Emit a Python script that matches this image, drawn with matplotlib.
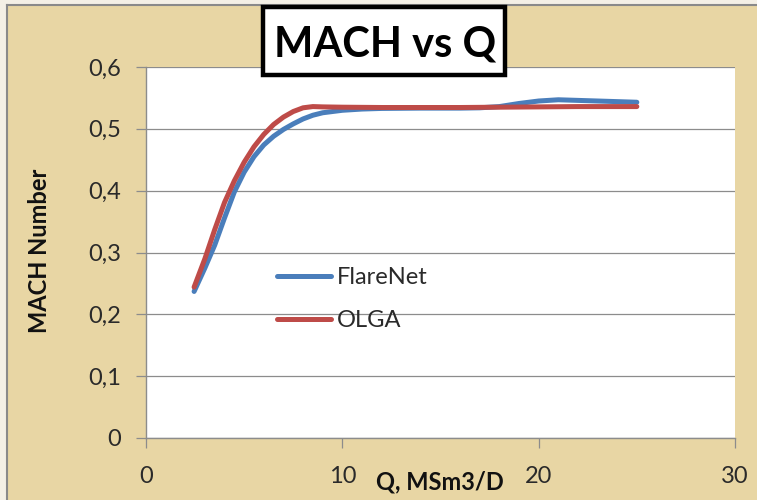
import matplotlib
matplotlib.use("Agg")
import matplotlib.pyplot as plt
from matplotlib.patches import Rectangle
from matplotlib.lines import Line2D
from matplotlib.ticker import FuncFormatter

# ---- data ----
q_flarenet = [2.45, 3.0, 3.5, 4.0, 4.5, 5.0, 5.5, 6.0, 6.5, 7.0, 7.5, 8.0, 8.5, 9.0,
              10.0, 11.0, 12.0, 14.0, 16.0, 17.0, 18.0, 19.0, 20.0, 21.0, 22.0, 23.0, 24.0, 25.0]
mach_flarenet = [0.237, 0.275, 0.312, 0.356, 0.398, 0.430, 0.455, 0.474, 0.488, 0.499, 0.508,
                 0.516, 0.522, 0.526, 0.530, 0.532, 0.533, 0.5335, 0.5335, 0.534, 0.536, 0.541,
                 0.545, 0.547, 0.546, 0.545, 0.544, 0.543]
q_olga = [2.45, 3.0, 3.5, 4.0, 4.5, 5.0, 5.5, 6.0, 6.5, 7.0, 7.5, 8.0, 8.5, 9.0,
          10.0, 12.0, 14.0, 16.0, 18.0, 20.0, 22.0, 24.0, 25.0]
mach_olga = [0.244, 0.290, 0.337, 0.381, 0.416, 0.446, 0.471, 0.491, 0.507, 0.519, 0.528,
             0.534, 0.536, 0.5355, 0.535, 0.5345, 0.5345, 0.5345, 0.535, 0.5355, 0.536, 0.536, 0.536]

series_labels = ["FlareNet", "OLGA"]
x_ticks = [0, 10, 20, 30]
y_ticks = [0, 0.1, 0.2, 0.3, 0.4, 0.5, 0.6]
title = "MACH vs Q"
x_label = "Q, MSm3/D"
y_label = "MACH Number"

# ---- styling ----
W, H = 757, 500
DPI = 100
BG = "#E8D6A4"
FONT = ["Lato", "DejaVu Sans"]
plt.rcParams["font.family"] = FONT

fig = plt.figure(figsize=(W / DPI, H / DPI), dpi=DPI, facecolor=BG)

def fx(px):
    return px / W

def fy(py):
    return 1 - py / H

ax_l, ax_r, ax_t, ax_b = 146, 735, 67, 438
ax = fig.add_axes([fx(ax_l), fy(ax_b), (ax_r - ax_l) / W, (ax_b - ax_t) / H])
ax.set_facecolor("white")

ax.plot(q_flarenet, mach_flarenet, color="#4A7EBB", lw=3.6, solid_capstyle="round",
        solid_joinstyle="round", label=series_labels[0], zorder=3)
ax.plot(q_olga, mach_olga, color="#BE4B48", lw=3.6, solid_capstyle="round",
        solid_joinstyle="round", label=series_labels[1], zorder=4)

ax.set_xlim(0, 30)
ax.set_ylim(0, 0.6)
ax.set_xticks(x_ticks)
ax.set_yticks(y_ticks)
ax.yaxis.set_major_formatter(FuncFormatter(lambda v, p: ("%g" % round(v, 2)).replace(".", ",")))
ax.grid(axis="y", color="#8C8C8C", lw=0.9)
ax.set_axisbelow(True)
for s in ["top", "right"]:
    ax.spines[s].set_visible(False)
for s in ["left", "bottom"]:
    ax.spines[s].set_color("#8C8C8C")
    ax.spines[s].set_linewidth(1.0)
ax.tick_params(axis="x", direction="out", length=7, width=0.9, color="#8C8C8C",
               labelsize=17, labelcolor="#2a2a2a", pad=13)
ax.tick_params(axis="y", direction="out", length=7, width=0.9, color="#8C8C8C",
               labelsize=17, labelcolor="#2a2a2a", pad=11)

ax.set_xlabel(x_label, fontsize=17, fontweight="bold", color="#111111")
ax.xaxis.label.set_va("center")
ax.xaxis.set_label_coords((440 - ax_l) / (ax_r - ax_l), -(482 - ax_b) / (ax_b - ax_t))
ax.set_ylabel(y_label, fontsize=17, fontweight="bold", color="#111111")
ax.yaxis.label.set_va("center")
ax.yaxis.set_label_coords(-(ax_l - 40) / (ax_r - ax_l), (ax_b - 251) / (ax_b - ax_t))

leg = ax.legend(loc="upper left", bbox_to_anchor=((277 - ax_l) / (ax_r - ax_l), (ax_b - 267) / (ax_b - ax_t)),
                frameon=False, fontsize=17, handlelength=2.3, handletextpad=0.25,
                labelspacing=0.95, borderpad=0, borderaxespad=0)
for t in leg.get_texts():
    t.set_color("#2a2a2a")

# title box
fig.add_artist(Rectangle((fx(263), fy(75)), 242 / W, 68 / H, transform=fig.transFigure,
                         facecolor="white", edgecolor="black", lw=3.2, zorder=10))
fig.text(fx(385), fy(57), title, ha="center", va="baseline", fontsize=30,
         fontweight="bold", color="black", zorder=11)

# outer frame edge (left/top)
fig.add_artist(Rectangle((0, 0), fx(6), 1, transform=fig.transFigure, facecolor="#F4F0E6",
                         edgecolor="none", zorder=1))
fig.add_artist(Rectangle((0, fy(4)), 1, 4 / H, transform=fig.transFigure, facecolor="#F4F0E6",
                         edgecolor="none", zorder=1))
fig.add_artist(Line2D([fx(7), fx(7)], [0, fy(5)], transform=fig.transFigure, color="#8A8A8A", lw=1.5, zorder=2))
fig.add_artist(Line2D([fx(7), 1], [fy(5), fy(5)], transform=fig.transFigure, color="#8A8A8A", lw=1.5, zorder=2))

fig.savefig("out.png", dpi=DPI, facecolor=BG)
